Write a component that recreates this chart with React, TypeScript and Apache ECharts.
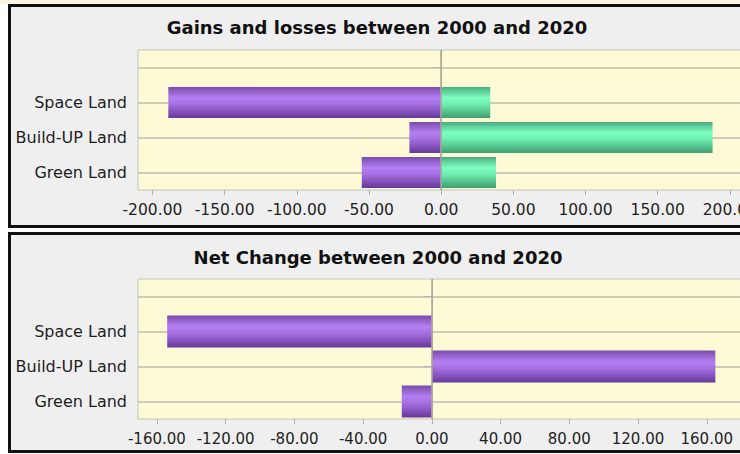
import React, { useEffect, useRef } from "react";
import * as echarts from "echarts";

const categories = ["Green Land", "Build-UP Land", "Space Land", ""];
const losses = [-55, -22, -189, null];
const gains = [38, 188, 34, null];
const netChange = [-17.5, 165, -154, null];
const gainTicks = [-200, -150, -100, -50, 0, 50, 100, 150, 200];
const netTicks = [-160, -120, -80, -40, 0, 40, 80, 120, 160];
const topTitle = "Gains and losses between 2000 and 2020";
const bottomTitle = "Net Change between 2000 and 2020";

const FONT = "'DejaVu Sans', Verdana, sans-serif";

const purple = new echarts.graphic.LinearGradient(0, 0, 0, 1, [
  { offset: 0, color: "#7a4cab" },
  { offset: 0.35, color: "#b47ff2" },
  { offset: 0.55, color: "#a66fe2" },
  { offset: 1, color: "#66399a" },
]);
const green = new echarts.graphic.LinearGradient(0, 0, 0, 1, [
  { offset: 0, color: "#48ad7f" },
  { offset: 0.35, color: "#7effc2" },
  { offset: 0.55, color: "#6eeeb0" },
  { offset: 1, color: "#3f9f70" },
]);

function yAxisCfg(gridIndex: number) {
  return {
    type: "category",
    gridIndex,
    data: categories,
    axisLine: { show: true, lineStyle: { color: "#b8b8b0", width: 1 } },
    axisTick: { show: true, alignWithLabel: true, length: 8, lineStyle: { color: "#b8b8b0" } },
    axisLabel: { color: "#1e1e1e", fontSize: 16, fontFamily: FONT, margin: 11 },
    splitLine: { show: true, alignWithLabel: true, lineStyle: { color: "#bdbdb2", width: 1.5 } },
  };
}

function xAxisCfg(gridIndex: number, min: number, max: number, ticks: number[], fontSize: number) {
  return {
    type: "value",
    gridIndex,
    min,
    max,
    axisLine: { show: false },
    splitLine: { show: false },
    axisTick: {
      show: true,
      customValues: ticks,
      length: 5,
      inside: false,
      lineStyle: { color: "#b0b0b0" },
    },
    axisLabel: {
      customValues: ticks,
      color: "#1e1e1e",
      fontSize,
      fontFamily: FONT,
      margin: 12,
      formatter: (v: number) => v.toFixed(2),
    },
  };
}

const zeroLine = {
  silent: true,
  symbol: "none",
  label: { show: false },
  lineStyle: { color: "#a8a698", type: "solid", width: 1.5 },
  data: [{ xAxis: 0 }],
};

export default function App() {
  const ref = useRef<HTMLDivElement>(null);
  useEffect(() => {
    if (!ref.current) return;
    const chart = echarts.init(ref.current, null, { renderer: "svg" });
    chart.setOption({
      animation: false,
      backgroundColor: "#ffffff",
      graphic: [
        { type: "rect", z: -10, shape: { x: 0, y: 0, width: 760, height: 4 }, style: { fill: "#fbf6e2" } },
        {
          type: "rect",
          z: -10,
          shape: { x: 9.5, y: 5.5, width: 760, height: 221 },
          style: { fill: "#efefef", stroke: "#111111", lineWidth: 3 },
        },
        {
          type: "rect",
          z: -10,
          shape: { x: 9.5, y: 233.5, width: 760, height: 218 },
          style: { fill: "#efefef", stroke: "#111111", lineWidth: 3 },
        },
        {
          type: "text",
          x: 377,
          y: 27,
          style: {
            text: topTitle,
            fill: "#111",
            font: `bold 18px ${FONT}`,
            textAlign: "center",
            textVerticalAlign: "middle",
          },
        },
        {
          type: "text",
          x: 378,
          y: 257,
          style: {
            text: bottomTitle,
            fill: "#111",
            font: `bold 18px ${FONT}`,
            textAlign: "center",
            textVerticalAlign: "middle",
          },
        },
      ],
      grid: [
        {
          left: 138,
          top: 50,
          width: 612,
          height: 140,
          show: true,
          backgroundColor: "#fffad6",
          borderColor: "#c4c4bc",
          borderWidth: 1,
        },
        {
          left: 138,
          top: 279,
          width: 610,
          height: 140,
          show: true,
          backgroundColor: "#fffad6",
          borderColor: "#c4c4bc",
          borderWidth: 1,
        },
      ],
      xAxis: [xAxisCfg(0, -210, 210, gainTicks, 15.5), xAxisCfg(1, -171, 184, netTicks, 15)],
      yAxis: [yAxisCfg(0), yAxisCfg(1)],
      series: [
        {
          name: "Losses",
          type: "bar",
          xAxisIndex: 0,
          yAxisIndex: 0,
          data: losses,
          barWidth: 31,
          barGap: "-100%",
          itemStyle: { color: purple },
          markLine: zeroLine,
        },
        {
          name: "Gains",
          type: "bar",
          xAxisIndex: 0,
          yAxisIndex: 0,
          data: gains,
          barWidth: 31,
          barGap: "-100%",
          itemStyle: { color: green },
        },
        {
          name: "Net Change",
          type: "bar",
          xAxisIndex: 1,
          yAxisIndex: 1,
          data: netChange,
          barWidth: 32,
          itemStyle: { color: purple },
          markLine: zeroLine,
        },
      ],
    });
    return () => chart.dispose();
  }, []);
  return (
    <div
      ref={ref}
      style={{ position: "fixed", left: 0, top: 0, width: 760, height: 454 }}
    />
  );
}
